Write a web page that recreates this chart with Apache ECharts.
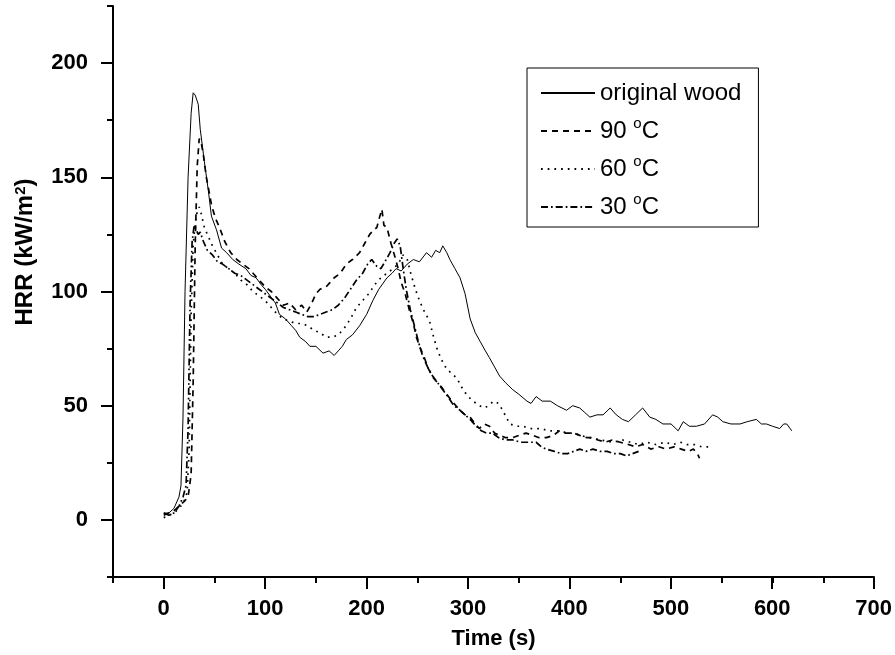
<!DOCTYPE html>
<html><head><meta charset="utf-8">
<script src="https://cdn.jsdelivr.net/npm/echarts@6/dist/echarts.min.js"></script>
<style>html,body{margin:0;padding:0;background:#fff}#c{width:895px;height:655px}</style>
</head><body><div id="c"></div>
<script>
// ---------- DATA ----------
const seriesNames = ['original wood', '90 °C', '60 °C', '30 °C'];

const woodT = [0,5,10,15,17,19,21,24,27,29,31,34,36,40,44,47,52,57,62,68,74,81,86,91,96,100,105,110,114,120,126,130,134,140,144,150,157,163,168,172,176,180,186,193,200,206,212,220,225,229,234,240,246,252,259,264,268,272,275,279,282,287,292,297,302,307,312,317,321,326,331,337,344,350,358,362,367,373,381,388,397,403,410,415,420,427,433,440,446,452,458,465,472,479,485,492,500,507,512,518,525,533,541,546,551,559,568,575,584,589,594,600,607,611,614,619];
const woodV = [3,3,5,10,15,45,100,150,178,187,186,182,171,157,144,133,127,119,117,114,112,110,107,106,103,101,98,95,90,88,85,83,80,78,76,76,73,74,72,74,76,79,81,85,90,96,101,106,108,110,109,112,114,113,117,115,118,117,120,117,114,110,106,99,88,82,78,74,71,67,63,60,57,55,52,51,54,52,52,50,48,50,49,47,45,46,46,49,46,44,43,46,49,45,44,42,42,39,43,41,41,42,46,45,43,42,42,43,44,42,42,41,40,42,42,39];

const t90T = [0,5,10,15,20,24,27,29,31,33,35,37,39,42,45,47,51,55,60,66,72,78,84,90,96,100,106,112,118,124,130,136,141,146,150,154,160,164,168,174,180,186,193,198,203,207,210,213,215,217,220,224,228,231,234,238,242,246,249,253,256,261,266,270,274,279,284,288,292,297,302,307,311,316,321,326,331,337,344,350,357,364,370,377,384,390,396,404,410,417,423,428,435,442,450,458,465,472,480,488,495,503,510,517,522,526,528];
const t90V = [2,3,4,6,8,10,20,60,120,155,167,165,160,150,143,138,132,128,122,117,114,112,110,107,104,102,100,97,94,95,92,94,91,95,99,101,102,104,106,108,112,114,117,121,125,127,128,133,136,129,128,121,115,110,104,99,92,86,80,75,72,66,62,60,58,55,52,50,48,46,45,42,40,42,41,38,37,36,36,37,38,37,36,36,37,39,38,38,37,36,36,35,34,35,34,33,32,33,31,32,31,32,31,30,31,29,27];

const t60T = [0,5,10,15,20,23,25,27,29,31,33,35,37,40,44,48,53,58,64,70,76,82,88,94,100,106,112,118,124,130,136,142,148,154,160,166,172,178,184,190,196,202,208,214,220,226,231,236,240,244,248,252,256,262,266,270,275,279,284,289,295,300,305,311,316,320,325,330,334,341,348,354,362,371,380,390,398,405,410,420,430,443,452,460,468,476,485,494,502,509,516,523,530,537];
const t60V = [1,2,3,5,8,12,30,90,120,130,135,137,134,128,124,120,116,112,110,108,105,103,100,98,96,93,90,88,87,86,86,85,83,82,80,80,81,84,88,93,96,99,103,106,108,110,112,116,114,107,101,96,92,87,80,74,69,66,64,62,57,54,52,50,49,50,52,51,48,42,41,41,40,40,39,39,38,38,37,36,35,34,35,34,33,34,33,34,33,34,33,33,32,32];

const t30T = [0,5,10,15,19,22,24,26,28,30,32,34,36,39,43,48,53,58,64,70,76,82,88,94,100,106,112,118,124,130,136,142,148,154,160,166,172,178,184,190,196,201,205,210,214,218,223,227,230,233,236,239,243,247,251,255,260,265,270,275,280,286,292,297,302,308,313,318,324,330,337,344,352,360,367,372,377,385,392,398,404,410,416,423,430,437,444,450,456,462,468];
const t30V = [3,2,3,6,10,15,40,95,122,129,127,125,126,122,118,116,113,112,110,108,107,105,103,101,99,97,95,93,92,91,90,89,89,90,91,92,94,97,101,105,108,112,114,111,110,113,117,121,123,120,110,101,92,85,78,72,67,63,60,57,54,50,48,46,44,41,39,38,38,36,35,35,34,34,34,32,31,30,29,29,30,31,30,31,30,30,29,29,28,29,30];

const xTickLabels = [0,100,200,300,400,500,600,700];
const yTickLabels = [0,50,100,150,200];

// ---------- LAYOUT ----------
const FONT = 'Arial, "Liberation Sans", sans-serif';
const W = 895, H = 655;
const L = 113, R = 874, T = 6, B = 577;
const xMin = -50, xMax = 700, yMin = -25, yMax = 225;
const sx = (R - L) / (xMax - xMin), sy = (B - T) / (yMax - yMin);
const xLabMin = xTickLabels[0], xLabMax = xTickLabels[xTickLabels.length - 1];
const yLabMin = yTickLabels[0], yLabMax = yTickLabels[yTickLabels.length - 1];

const zip = (a, b) => a.map((v, i) => [v, b[i]]);
const styles = [
  { width: 1, type: 'solid' },
  { width: 1.7, type: [6, 5] },
  { width: 1.7, type: [1.7, 5] },
  { width: 1.7, type: [7, 3, 1.7, 3] }
];
const dataSets = [zip(woodT, woodV), zip(t90T, t90V), zip(t60T, t60V), zip(t30T, t30V)];

const chart = echarts.init(document.getElementById('c'), null, { renderer: 'canvas' });
chart.setOption({
  animation: false,
  backgroundColor: '#fff',
  grid: [
    { left: L, right: W - R, top: T, bottom: H - B, containLabel: false },
    { left: L + (xLabMin - xMin) * sx, right: W - R - (xMax - xLabMax) * sx,
      top: T + (yMax - yLabMax) * sy, bottom: H - B + (yLabMin - yMin) * sy, containLabel: false }
  ],
  xAxis: [
    { type: 'value', gridIndex: 0, min: xMin, max: xMax, interval: 50,
      axisLine: { show: true, onZero: false, lineStyle: { color: '#000', width: 2 } },
      axisTick: { show: true, length: 6, lineStyle: { color: '#000', width: 2 } },
      axisLabel: { show: false }, splitLine: { show: false },
      name: 'Time (s)', nameLocation: 'middle', nameGap: 51,
      nameTextStyle: { fontFamily: FONT, fontSize: 22, fontWeight: 'bold', color: '#000' } },
    { type: 'value', gridIndex: 1, min: xLabMin, max: xLabMax, interval: 100,
      offset: (yLabMin - yMin) * sy,
      axisLine: { show: false, onZero: false },
      axisTick: { show: true, length: 12, lineStyle: { color: '#000', width: 2 } },
      axisLabel: { show: true, margin: 21, fontFamily: FONT, fontSize: 22, fontWeight: 'bold', color: '#000' },
      splitLine: { show: false } }
  ],
  yAxis: [
    { type: 'value', gridIndex: 0, min: yMin, max: yMax, interval: 25,
      axisLine: { show: true, onZero: false, lineStyle: { color: '#000', width: 2 } },
      axisTick: { show: true, length: 6, lineStyle: { color: '#000', width: 2 } },
      axisLabel: { show: false }, splitLine: { show: false } },
    { type: 'value', gridIndex: 1, min: yLabMin, max: yLabMax, interval: 50,
      offset: (xLabMin - xMin) * sx,
      axisLine: { show: false, onZero: false },
      axisTick: { show: true, length: 12, lineStyle: { color: '#000', width: 2 } },
      axisLabel: { show: true, margin: 25, fontFamily: FONT, fontSize: 22, fontWeight: 'bold', color: '#000' },
      splitLine: { show: false } }
  ],
  legend: {
    orient: 'vertical', left: 527, top: 68,
    data: seriesNames, selectedMode: false,
    itemWidth: 54, itemHeight: 14, itemGap: 8,
    padding: [10, 17, 5, 13],
    borderColor: '#000', borderWidth: 1, backgroundColor: '#fff',
    itemStyle: { opacity: 0 },
    formatter: n => n.replace('°', '{sup|o}'),
    textStyle: { fontFamily: FONT, fontSize: 24, color: '#000', lineHeight: 30,
      rich: { sup: { fontFamily: FONT, fontSize: 15, color: '#000', verticalAlign: 'top', lineHeight: 15 } } }
  },
  graphic: [{
    type: 'text', x: 25, y: 252, rotation: Math.PI / 2,
    style: {
      text: 'HRR (kW/m{sup|2})', fontFamily: FONT, fontSize: 24, fontWeight: 'bold', fill: '#000',
      align: 'center', verticalAlign: 'middle',
      rich: { sup: { fontFamily: FONT, fontSize: 15, fontWeight: 'bold', fill: '#000', verticalAlign: 'top', lineHeight: 15 } }
    }
  }],
  series: seriesNames.map((name, i) => ({
    name, type: 'line', xAxisIndex: 0, yAxisIndex: 0,
    data: dataSets[i], symbol: 'none', showSymbol: false,
    lineStyle: { color: '#000', width: styles[i].width, type: styles[i].type },
    itemStyle: { color: '#000' }, z: 5 - i
  }))
});
</script></body></html>
